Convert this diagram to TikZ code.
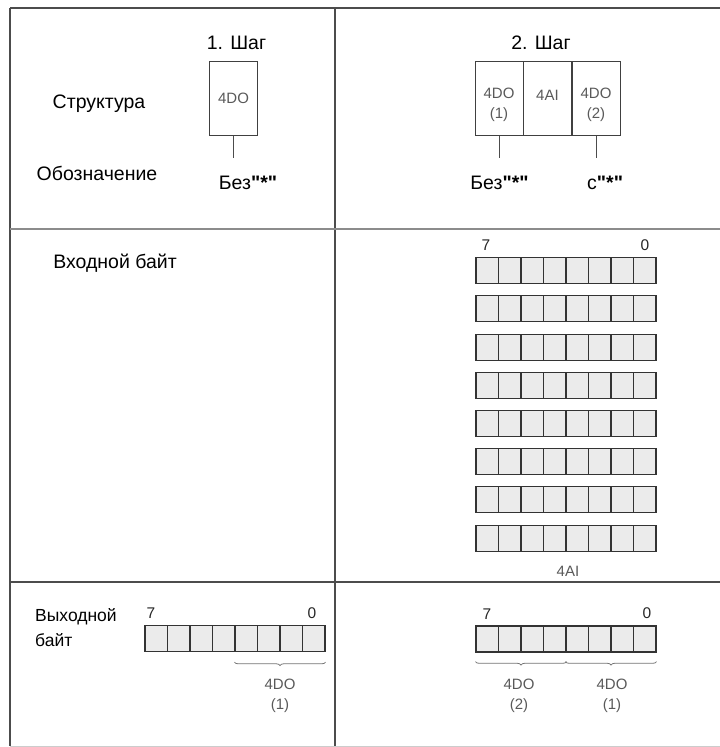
\documentclass[tikz,border=0pt]{standalone}
\usepackage{fontspec}
\setmainfont{Liberation Sans}[Ligatures=TeXOff]
\usetikzlibrary{decorations.pathreplacing}
\newcommand{\stq}{\textbf{"*"}}
\begin{document}
\begin{tikzpicture}[x=1pt,y=-1pt,
  lbl/.style={font=\fontsize{19.5}{22}\selectfont, inner sep=0pt},
  small/.style={font=\fontsize{15}{19.5}\selectfont, text=black!65, inner sep=0pt, align=center},
  digit/.style={font=\fontsize{15.5}{18}\selectfont, text=black!85, inner sep=0pt},
  modbox/.style={draw=black!75, line width=1pt, minimum width=48pt, minimum height=74pt, inner sep=0pt},
  cell/.style={draw=black!80, line width=1.1pt, fill=black!8, minimum width=22.5pt, minimum height=26pt, inner sep=0pt},
  gridline/.style={line width=1.5pt, draw=black!70},
  lightline/.style={line width=1.5pt, draw=black!45},
  conn/.style={draw=black!70, line width=1pt},
  brc/.style={decorate, decoration={brace, mirror, amplitude=3.5pt}, draw=black!55, line width=0.8pt}
]
\useasboundingbox (0,0) rectangle (720,747);
% table
\draw[gridline] (10,8) -- (720,8);
\draw[gridline] (10,8) -- (10,746);
\draw[gridline] (335,8) -- (335,746);
\draw[lightline] (10,229) -- (720,229);
\draw[gridline] (10,582) -- (720,582);
\draw[line width=1pt, draw=black!20] (10,746) -- (720,746);

% row 1 left labels
\node[lbl] (struct) at (99,104) {Структура};
\node[lbl] (desig) at (97,173) {Обозначение};

% step 1
\node[lbl] (step1) at (236.5,43) {1. Шаг};
\node[modbox] (m1) at (233.5,98) {};
\node[small] (m1t) at (233.5,98) {4DO};
\coordinate (m1e) at (233.5,158);
\draw[conn] (m1.south) -- (m1e);
\node[lbl] (bez1) at (248,183) {Без\stq};

% step 2
\node[lbl] (step2) at (541,43) {2. Шаг};
\node[modbox] (m2a) at (499,98) {};
\node[modbox] (m2b) at (547.5,98) {};
\node[modbox] (m2c) at (596,98) {};
\node[small] (m2at) at (499,105) {4DO\\(1)};
\node[small] (m2bt) at (547.5,95) {4AI};
\node[small] (m2ct) at (596,105) {4DO\\(2)};
\coordinate (m2ae) at (499,158);
\coordinate (m2ce) at (596,158);
\draw[conn] (m2a.south) -- (m2ae);
\draw[conn] (m2c.south) -- (m2ce);
\node[lbl] (bez2) at (499.5,183) {Без\stq};
\node[lbl, anchor=west] (s2) at (587,183) {с\stq};

% input byte
\node[lbl] (inbyte) at (115,263) {Входной байт};
\node[digit] (in7) at (486,245) {7};
\node[digit] (in0) at (645,245) {0};
\foreach \r in {0,...,7} {
  \foreach \k in {0,...,7} {
    \node[cell] (in-\r-\k) at ({476+11.25+22.5*\k},{257.7+13+38.2*\r}) {};
  }
}
\node[small] (ai) at (568,571) {4AI};

% output byte left
\node[font=\fontsize{17.5}{25}\selectfont, align=left, anchor=north west, inner sep=0pt] (outbyte) at (35,608) {Выходной\\байт};
\node[digit] (o17) at (151,613) {7};
\node[digit] (o10) at (312,613) {0};
\foreach \k in {0,...,7} {
  \node[cell] (oa-\k) at ({145+11.25+22.5*\k},638.5) {};
}
\path (oa-4.south west) ++(0,10) coordinate (ba1);
\path (oa-7.south east) ++(0,10) coordinate (ba2);
\draw[brc] (ba1) -- (ba2);
\node[small] (oat) at (280,696) {4DO\\(1)};

% output byte right
\node[digit] (o27) at (487,614) {7};
\node[digit] (o20) at (647,613) {0};
\foreach \k in {0,...,7} {
  \node[cell] (ob-\k) at ({476+11.25+22.5*\k},639) {};
}
\path (ob-0.south west) ++(0,9) coordinate (bb1);
\path (ob-3.south east) ++(0,9) coordinate (bb2);
\path (ob-4.south west) ++(0,9) coordinate (bb3);
\path (ob-7.south east) ++(0,9) coordinate (bb4);
\draw[brc] (bb1) -- (bb2);
\draw[brc] (bb3) -- (bb4);
\node[small] (obt1) at (519,696) {4DO\\(2)};
\node[small] (obt2) at (612,696) {4DO\\(1)};
\end{tikzpicture}
\end{document}
